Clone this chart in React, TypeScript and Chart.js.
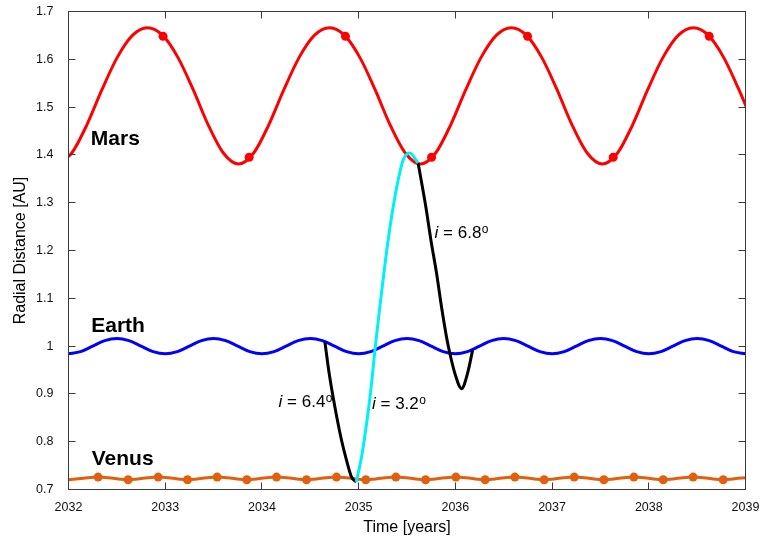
import { useEffect, useRef } from "react";
import { Chart, registerables } from "chart.js";

Chart.register(...registerables);

const FONT = "'Liberation Sans', Arial, Helvetica, sans-serif";

// Mars heliocentric distance [AU]
const marsYears = [
  2031.877, 2032.034, 2032.19, 2032.347, 2032.504, 2032.661, 2032.817, 2032.974, 2033.131, 2033.288, 2033.444, 2033.601,
  2033.758, 2033.915, 2034.071, 2034.228, 2034.385, 2034.542, 2034.698, 2034.855, 2035.012, 2035.169, 2035.325, 2035.482,
  2035.639, 2035.796, 2035.952, 2036.109, 2036.266, 2036.423, 2036.579, 2036.736, 2036.893, 2037.05, 2037.206, 2037.363,
  2037.52, 2037.677, 2037.833, 2037.99, 2038.147, 2038.304, 2038.461, 2038.617, 2038.774, 2038.931, 2039.088, 2039.244,
];
const marsRadius = [
  1.381, 1.404, 1.463, 1.537, 1.604, 1.65, 1.666, 1.65, 1.604, 1.537, 1.463, 1.404,
  1.381, 1.404, 1.463, 1.537, 1.604, 1.65, 1.666, 1.65, 1.604, 1.537, 1.463, 1.404,
  1.381, 1.404, 1.463, 1.537, 1.604, 1.65, 1.666, 1.65, 1.604, 1.537, 1.463, 1.404,
  1.381, 1.404, 1.463, 1.537, 1.604, 1.65, 1.666, 1.65, 1.604, 1.537, 1.463, 1.404,
];
const marsMarkerYears = [2032.978, 2033.868, 2034.864, 2035.754, 2036.747, 2037.632, 2038.625];
const marsMarkerRadius = [1.648, 1.395, 1.648, 1.395, 1.648, 1.395, 1.648];

// Earth heliocentric distance [AU]
const earthYears = [
  2032, 2032.125, 2032.25, 2032.375, 2032.5, 2032.625, 2032.75, 2032.875,
  2033, 2033.125, 2033.25, 2033.375, 2033.5, 2033.625, 2033.75, 2033.875,
  2034, 2034.125, 2034.25, 2034.375, 2034.5, 2034.625, 2034.75, 2034.875,
  2035, 2035.125, 2035.25, 2035.375, 2035.5, 2035.625, 2035.75, 2035.875,
  2036, 2036.125, 2036.25, 2036.375, 2036.5, 2036.625, 2036.75, 2036.875,
  2037, 2037.125, 2037.25, 2037.375, 2037.5, 2037.625, 2037.75, 2037.875,
  2038, 2038.125, 2038.25, 2038.375, 2038.5, 2038.625, 2038.75, 2038.875,
  2039,
];
const earthRadius = [
  0.984, 0.9885, 1.0, 1.0115, 1.016, 1.0115, 1.0, 0.9885,
  0.984, 0.9885, 1.0, 1.0115, 1.016, 1.0115, 1.0, 0.9885,
  0.984, 0.9885, 1.0, 1.0115, 1.016, 1.0115, 1.0, 0.9885,
  0.984, 0.9885, 1.0, 1.0115, 1.016, 1.0115, 1.0, 0.9885,
  0.984, 0.9885, 1.0, 1.0115, 1.016, 1.0115, 1.0, 0.9885,
  0.984, 0.9885, 1.0, 1.0115, 1.016, 1.0115, 1.0, 0.9885,
  0.984, 0.9885, 1.0, 1.0115, 1.016, 1.0115, 1.0, 0.9885,
  0.984,
];

// Venus heliocentric distance [AU]
const venusYears = [
  2032.0, 2032.153, 2032.306, 2032.462, 2032.617, 2032.772, 2032.927, 2033.079, 2033.231, 2033.384,
  2033.537, 2033.69, 2033.844, 2033.997, 2034.151, 2034.306, 2034.461, 2034.616, 2034.771, 2034.922,
  2035.074, 2035.23, 2035.385, 2035.538, 2035.692, 2035.848, 2036.005, 2036.156, 2036.308, 2036.461,
  2036.615, 2036.766, 2036.918, 2037.073, 2037.229, 2037.382, 2037.536, 2037.691, 2037.846, 2037.997,
  2038.149, 2038.304, 2038.459, 2038.614, 2038.769, 2038.923, 2039.077,
];
const venusRadius = [
  0.7205, 0.7233, 0.726, 0.7233, 0.7205, 0.7233, 0.726, 0.7233, 0.7205, 0.7233,
  0.726, 0.7233, 0.7205, 0.7233, 0.726, 0.7233, 0.7205, 0.7233, 0.726, 0.7233,
  0.7205, 0.7233, 0.726, 0.7233, 0.7205, 0.7233, 0.726, 0.7233, 0.7205, 0.7233,
  0.726, 0.7233, 0.7205, 0.7233, 0.726, 0.7233, 0.7205, 0.7233, 0.726, 0.7233,
  0.7205, 0.7233, 0.726, 0.7233, 0.7205, 0.7233, 0.726,
];
const venusMarkerYears = [
  2032.306, 2032.617, 2032.927, 2033.231, 2033.537, 2033.844, 2034.151, 2034.461, 2034.771, 2035.074, 2035.385,
  2035.692, 2036.005, 2036.308, 2036.615, 2036.918, 2037.229, 2037.536, 2037.846, 2038.149, 2038.459, 2038.769,
];
const venusMarkerRadius = [
  0.726, 0.7205, 0.726, 0.7205, 0.726, 0.7205, 0.726, 0.7205, 0.726, 0.7205, 0.726,
  0.7205, 0.726, 0.7205, 0.726, 0.7205, 0.726, 0.7205, 0.726, 0.7205, 0.726, 0.7205,
];

// Transfer legs: Earth -> Venus (i = 6.4°), Venus -> Mars (i = 3.2°), Mars -> Earth (i = 6.8°)
const legEVYears = [2034.651, 2034.695, 2034.754, 2034.823, 2034.875, 2034.927, 2034.975];
const legEVRadius = [1.009, 0.943, 0.873, 0.803, 0.761, 0.726, 0.716];
const legVMYears = [
  2034.975, 2035.03, 2035.082, 2035.126, 2035.168, 2035.219, 2035.261, 2035.305, 2035.357, 2035.408, 2035.46,
  2035.529, 2035.615,
];
const legVMRadius = [0.716, 0.768, 0.838, 0.908, 0.991, 1.082, 1.152, 1.222, 1.291, 1.347, 1.389, 1.404, 1.383];
const legMEYears = [
  2035.615, 2035.695, 2035.747, 2035.806, 2035.857, 2035.915, 2035.943, 2035.995, 2036.064, 2036.126, 2036.178,
];
const legMERadius = [1.383, 1.291, 1.222, 1.152, 1.082, 1.012, 0.985, 0.943, 0.911, 0.943, 0.991];

const yearTicks = [2033, 2034, 2035, 2036, 2037, 2038];
const radiusTicks = [0.8, 0.9, 1.0, 1.1, 1.2, 1.3, 1.4, 1.5, 1.6];

const planetLabels = [
  { text: "Mars", year: 2032.231, r: 1.4207 },
  { text: "Earth", year: 2032.235, r: 1.0301 },
  { text: "Venus", year: 2032.24, r: 0.7513 },
];
const inclinationLabels = [
  { value: "6.4", year: 2034.172, r: 0.8724 },
  { value: "3.2", year: 2035.138, r: 0.8677 },
  { value: "6.8", year: 2035.785, r: 1.2255 },
];

const MARS = "#ff0000";
const EARTH = "#0000ff";
const VENUS = "#e0600f";
const CYAN = "#00f0f8";
const FRAME = "#3a3a3a";

const pts = (xs: number[], ys: number[]) => xs.map((x, i) => ({ x, y: ys[i] }));

const curve = (data: { x: number; y: number }[], color: string) => ({
  data,
  borderColor: color,
  backgroundColor: color,
  borderWidth: 3,
  pointRadius: 0,
  showLine: true,
  cubicInterpolationMode: "monotone" as const,
  clip: 0,
});

const markers = (data: { x: number; y: number }[], color: string) => ({
  data,
  borderColor: color,
  backgroundColor: color,
  borderWidth: 0,
  pointRadius: 4.5,
  showLine: false,
});

const framePlugin = {
  id: "frameAndLabels",
  afterDatasetsDraw(chart: any) {
    const { ctx, chartArea, scales } = chart;
    const xs = scales.x;
    const ys = scales.y;
    const { left, right, top, bottom } = chartArea;
    const snap = (v: number) => Math.round(v - 0.5) + 0.5;
    ctx.save();

    // frame with inward ticks on all four sides
    ctx.strokeStyle = FRAME;
    ctx.lineWidth = 1;
    ctx.strokeRect(snap(left), snap(top), snap(right) - snap(left), snap(bottom) - snap(top));
    const tl = 7;
    ctx.beginPath();
    for (const t of yearTicks) {
      const px = snap(xs.getPixelForValue(t));
      ctx.moveTo(px, snap(bottom));
      ctx.lineTo(px, snap(bottom) - tl);
      ctx.moveTo(px, snap(top));
      ctx.lineTo(px, snap(top) + tl);
    }
    for (const t of radiusTicks) {
      const py = snap(ys.getPixelForValue(t));
      ctx.moveTo(snap(left), py);
      ctx.lineTo(snap(left) + tl, py);
      ctx.moveTo(snap(right), py);
      ctx.lineTo(snap(right) - tl, py);
    }
    ctx.stroke();

    // planet names
    ctx.fillStyle = "#000";
    ctx.textBaseline = "alphabetic";
    ctx.textAlign = "left";
    ctx.font = `bold 21px ${FONT}`;
    for (const l of planetLabels) {
      ctx.fillText(l.text, xs.getPixelForValue(l.year), ys.getPixelForValue(l.r));
    }

    // inclination of each leg
    for (const l of inclinationLabels) {
      const x = xs.getPixelForValue(l.year);
      const y = ys.getPixelForValue(l.r);
      ctx.font = `italic 17px ${FONT}`;
      ctx.fillText("i", x, y);
      let w = ctx.measureText("i").width;
      ctx.font = `17px ${FONT}`;
      const s = " = " + l.value;
      ctx.fillText(s, x + w, y);
      w += ctx.measureText(s).width;
      ctx.font = `12px ${FONT}`;
      ctx.fillText("o", x + w + 0.5, y - 5.5);
    }
    ctx.restore();
  },
};

// keep the plot box fixed: no extra room reserved for overhanging tick labels
const zeroPadding = (s: any) => {
  s.paddingTop = 0;
  s.paddingBottom = 0;
  s.paddingLeft = 0;
  s.paddingRight = 0;
};

export default function App() {
  const ref = useRef<HTMLCanvasElement | null>(null);

  useEffect(() => {
    if (!ref.current) return;
    const chart = new Chart(ref.current, {
      type: "scatter",
      data: {
        datasets: [
          curve(pts(legVMYears, legVMRadius), CYAN),
          curve(pts(legEVYears, legEVRadius), "#000"),
          curve(pts(legMEYears, legMERadius), "#000"),
          curve(pts(earthYears, earthRadius), EARTH),
          markers(pts(marsMarkerYears, marsMarkerRadius), MARS),
          curve(pts(marsYears, marsRadius), MARS),
          markers(pts(venusMarkerYears, venusMarkerRadius), VENUS),
          curve(pts(venusYears, venusRadius), VENUS),
        ] as any,
      },
      options: {
        animation: false,
        responsive: false,
        events: [],
        layout: { padding: { top: 11.5, right: 15.5, left: 0, bottom: 0 } },
        plugins: { legend: { display: false }, tooltip: { enabled: false } },
        scales: {
          x: {
            type: "linear",
            min: 2032,
            max: 2039,
            grid: { display: false, drawTicks: false },
            border: { display: false },
            ticks: {
              stepSize: 1,
              padding: 11,
              color: "#111",
              maxRotation: 0,
              autoSkip: false,
              font: { family: FONT, size: 12.5 },
              callback: (v: any) => String(v),
            },
            title: {
              display: true,
              text: "Time [years]",
              color: "#000",
              font: { family: FONT, size: 16 },
              padding: { top: 0, bottom: 1.5 },
            },
            afterFit: (s: any) => {
              s.height = 49.5;
              zeroPadding(s);
            },
          },
          y: {
            type: "linear",
            min: 0.7,
            max: 1.7,
            grid: { display: false, drawTicks: false },
            border: { display: false },
            ticks: {
              stepSize: 0.1,
              padding: 15,
              color: "#111",
              font: { family: FONT, size: 12.5 },
              callback: (v: any) => String(Math.round(Number(v) * 10) / 10),
            },
            title: {
              display: true,
              text: "Radial Distance [AU]",
              color: "#000",
              font: { family: FONT, size: 16 },
              padding: { top: 10.5, bottom: 0 },
            },
            afterFit: (s: any) => {
              s.width = 68.5;
              zeroPadding(s);
            },
          },
        },
      },
      plugins: [framePlugin],
    });
    return () => chart.destroy();
  }, []);

  return (
    <div style={{ position: "fixed", left: 0, top: 0, width: 761, height: 539, background: "#fff" }}>
      <canvas ref={ref} width={761} height={539} style={{ display: "block" }} />
    </div>
  );
}
